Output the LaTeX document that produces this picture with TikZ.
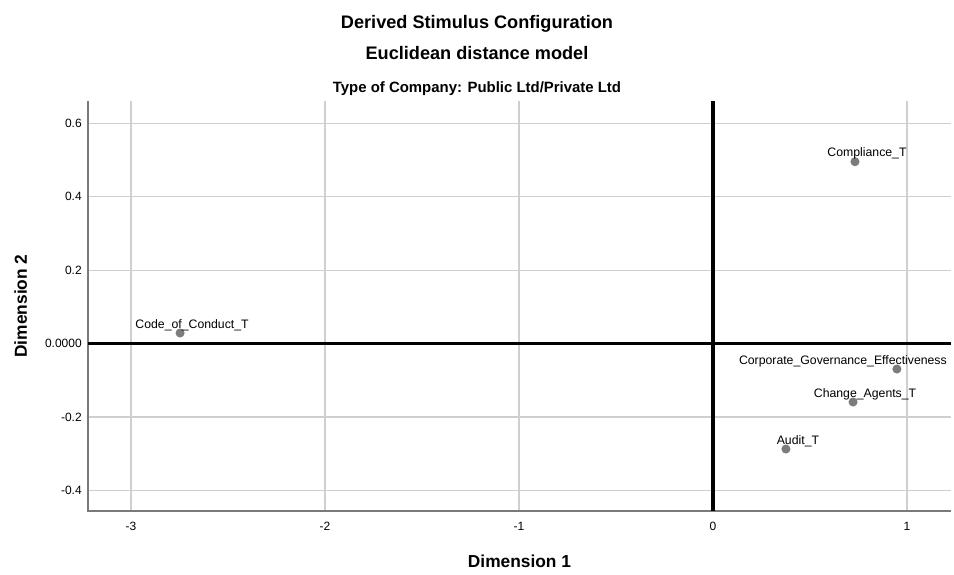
\documentclass[tikz,border=0pt]{standalone}
\usepackage{fontspec}
\setmainfont{Liberation Sans}
\usetikzlibrary{positioning}
\definecolor{gridgray}{HTML}{CFCFCF}
\definecolor{framegray}{HTML}{7A7A7A}
\definecolor{dotgray}{HTML}{7C7C7C}
\tikzset{gridline/.style =
   {draw=gridgray,
    line width=0.9pt}}
\tikzset{zeroline/.style =
   {draw=black,
    line width=2.4pt}}
\tikzset{frameline/.style = {draw=framegray, line width=1pt}}
\tikzset{stimulus/.style =
   {circle,
    fill=dotgray,
    inner sep=0pt,
    minimum size=6.8pt,
    label distance=3.4pt}}
\tikzset{stimulus-label/.style =
   {font=\fontsize{9.2}{11}\selectfont,
    inner sep=0pt,
    anchor=base,
    xshift=9pt}}
\tikzset{ticklabel/.style =
   {font=\fontsize{9}{11}\selectfont,
    inner sep=0pt}}
\tikzset{axistitle/.style =
   {font=\fontsize{13}{15}\selectfont\bfseries,
    inner sep=0pt,
    anchor=base}}

\begin{document}
\begin{tikzpicture}[x=145.5pt, y=275.25pt]

    \path [fill=white, use as bounding box] (-3.6753,-0.6281) rectangle (1.2423,0.9360);

    % titles
    \node [font=\fontsize{13.6}{16}\selectfont\bfseries, anchor=base, inner sep=0pt]
          (title) at (-1.2165,0.8597) {Derived Stimulus Configuration};
    \node [font=\fontsize{13.6}{16}\selectfont\bfseries, anchor=base, inner sep=0pt]
          (model) at (-1.2165,0.7752) {Euclidean distance model};
    \node [font=\fontsize{11.2}{13}\selectfont\bfseries, anchor=base, inner sep=0pt]
          (company) at (-1.2165,0.6826) {Type of Company: Public Ltd/Private Ltd};

    % grid
    \draw [gridline] (-3,-0.4564) -- (-3,0.6608);
    \draw [gridline] (-2,-0.4564) -- (-2,0.6608);
    \draw [gridline] (-1,-0.4564) -- (-1,0.6608);
    \draw [gridline] (1,-0.4564) -- (1,0.6608);
    \draw [gridline] (-3.2216,0.6) -- (1.2268,0.6);
    \draw [gridline] (-3.2216,0.4) -- (1.2268,0.4);
    \draw [gridline] (-3.2216,0.2) -- (1.2268,0.2);
    \draw [gridline] (-3.2216,-0.2) -- (1.2268,-0.2);
    \draw [gridline] (-3.2216,-0.4) -- (1.2268,-0.4);

    \draw [frameline] (-3.2216,0.6608) -- (-3.2216,-0.4564) -- (1.2268,-0.4564);
    \draw [zeroline] (-3.2216,0) -- (1.2268,0);
    \draw [zeroline] (0,-0.4564) -- (0,0.6608);

    % tick labels
    \node [ticklabel, anchor=north] (xm3) at (-3,-0.4864) {-3};
    \node [ticklabel, anchor=north] (xm2) at (-2,-0.4864) {-2};
    \node [ticklabel, anchor=north] (xm1) at (-1,-0.4864) {-1};
    \node [ticklabel, anchor=north] (x0) at (0,-0.4864) {0};
    \node [ticklabel, anchor=north] (x1) at (1,-0.4864) {1};
    \node [ticklabel, anchor=east] (y06) at (-3.2526,0.6) {0.6};
    \node [ticklabel, anchor=east] (y04) at (-3.2526,0.4) {0.4};
    \node [ticklabel, anchor=east] (y02) at (-3.2526,0.2) {0.2};
    \node [ticklabel, anchor=east] (y0) at (-3.2526,0) {0.0000};
    \node [ticklabel, anchor=east] (ym02) at (-3.2526,-0.2) {-0.2};
    \node [ticklabel, anchor=east] (ym04) at (-3.2526,-0.4) {-0.4};

    \node [axistitle] (dim1) at (-0.9974,-0.6090) {Dimension 1};
    \node [axistitle, rotate=90] (dim2) at (-3.5361,0.1022) {Dimension 2};

    % stimuli
    \node [stimulus,
           label={[stimulus-label]above:Compliance\_T}] (compliance) at (0.732,0.4954) {};
    \node [stimulus,
           label={[stimulus-label]above:Code\_of\_Conduct\_T}] (conduct) at (-2.747,0.0286) {};
    \node [stimulus,
           label distance=1.1pt,
           label={[stimulus-label, xshift=-49.5pt]above:Corporate\_Governance\_Effectiveness}] (governance) at (0.948,-0.0695) {};
    \node [stimulus,
           label={[stimulus-label]above:Change\_Agents\_T}] (agents) at (0.722,-0.1594) {};
    \node [stimulus,
           label={[stimulus-label]above:Audit\_T}] (audit) at (0.376,-0.2875) {};

\end{tikzpicture}
\end{document}
